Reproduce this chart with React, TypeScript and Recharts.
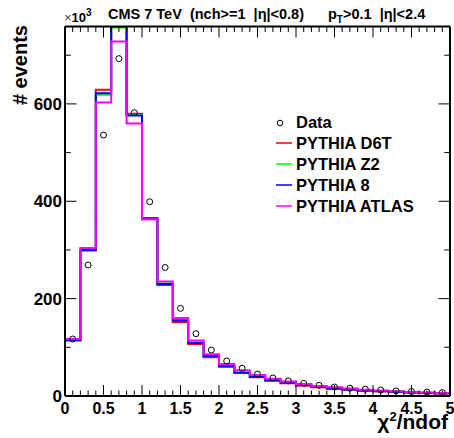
import { ComposedChart, Line, Scatter, XAxis, YAxis, Customized } from 'recharts'

// histogram bins (low edges), width 0.2, last edge 5
const binLow = [
  0, 0.2, 0.4, 0.6, 0.8, 1.0, 1.2, 1.4, 1.6, 1.8, 2.0, 2.2, 2.4, 2.6, 2.8, 3.0, 3.2, 3.4, 3.6, 3.8,
  4.0, 4.2, 4.4, 4.6, 4.8,
]
const binHigh = 5
const binCenter = [
  0.1, 0.3, 0.5, 0.7, 0.9, 1.1, 1.3, 1.5, 1.7, 1.9, 2.1, 2.3, 2.5, 2.7, 2.9, 3.1, 3.3, 3.5, 3.7, 3.9,
  4.1, 4.3, 4.5, 4.7, 4.9,
]

// values in units of 10^3 events
const dataValues = [
  117, 269, 536, 693, 582, 399, 264, 180, 128, 94.5, 72, 57, 45, 37, 31, 26, 22, 18.5, 16, 14, 12.3,
  10.5, 9.2, 8, 7,
]
const d6tValues = [
  114, 299, 629, 770, 580, 363, 228, 152, 107, 79.5, 60, 47, 38.5, 31.5, 26, 21.5, 18, 15, 13, 11,
  9.6, 8.2, 7, 6, 5.2,
]
const z2Values = [
  115, 300, 619, 757, 577, 365, 231, 156, 110, 83, 61.5, 48.5, 40, 33, 27.5, 22.5, 19, 16, 14, 12,
  10.3, 8.8, 7.6, 6.6, 5.7,
]
const py8Values = [
  115, 300, 622, 759, 576, 365, 230, 155, 109, 82, 61, 48, 39.5, 32.5, 27, 22, 18.5, 15.5, 13.5, 11.5,
  10, 8.5, 7.3, 6.3, 5.5,
]
const atlasValues = [
  117, 304, 603, 728, 560, 363, 235, 160, 114, 86, 65.5, 53, 43, 35.5, 30, 24.5, 20.5, 18, 15.5, 13,
  11.3, 9.6, 8.2, 7.2, 6.2,
]

const series = [
  { key: 'd6t', name: 'PYTHIA D6T', color: '#ff0000', values: d6tValues },
  { key: 'z2', name: 'PYTHIA Z2', color: '#00ff00', values: z2Values },
  { key: 'py8', name: 'PYTHIA 8', color: '#0000ff', values: py8Values },
  { key: 'atlas', name: 'PYTHIA ATLAS', color: '#ff00ff', values: atlasValues },
]

const xMajorTicks = [0, 0.5, 1, 1.5, 2, 2.5, 3, 3.5, 4, 4.5, 5]
const xTickLabels = ['0', '0.5', '1', '1.5', '2', '2.5', '3', '3.5', '4', '4.5', '5']
const xMinorTicks = Array.from({ length: 51 }, (_, i) => i / 10)
const yMajorTicks = [0, 200, 400, 600]
const yTickLabels = ['0', '200', '400', '600']
const yMinorTicks = [0, 100, 200, 300, 400, 500, 600, 700]

const Y_MAX = 759
const FONT = '"Liberation Sans", Arial, Helvetica, sans-serif'

const stepData = [
  ...binLow.map((x, i) => {
    const row: Record<string, number> = { x }
    series.forEach((s) => (row[s.key] = s.values[i]))
    return row
  }),
  (() => {
    const row: Record<string, number> = { x: binHigh }
    series.forEach((s) => (row[s.key] = s.values[s.values.length - 1]))
    return row
  })(),
]
const pointData = binCenter.map((x, i) => ({ x, y: dataValues[i] }))

const majorIndex = (list: number[], v: number) => list.findIndex((m) => Math.abs(m - v) < 1e-6)

function BottomTick({ x, y, payload }: any) {
  const idx = majorIndex(xMajorTicks, payload.value)
  const len = idx >= 0 ? 11 : 5.5
  return (
    <g>
      <line x1={x} x2={x} y1={y} y2={y - len} stroke="#000" strokeWidth={1} />
      {idx >= 0 && (
        <text x={x} y={y + 18} textAnchor="middle" fontFamily={FONT} fontWeight="bold" fontSize={16} fill="#000">
          {xTickLabels[idx]}
        </text>
      )}
    </g>
  )
}

function TopTick({ x, y, payload }: any) {
  const len = majorIndex(xMajorTicks, payload.value) >= 0 ? 11 : 5.5
  return <line x1={x} x2={x} y1={y} y2={y + len} stroke="#000" strokeWidth={1} />
}

function LeftTick({ x, y, payload }: any) {
  const idx = majorIndex(yMajorTicks, payload.value)
  const len = idx >= 0 ? 11.5 : 5.7
  return (
    <g>
      <line x1={x} x2={x + len} y1={y} y2={y} stroke="#000" strokeWidth={1} />
      {idx >= 0 && (
        <text x={x - 3} y={y + 6} textAnchor="end" fontFamily={FONT} fontWeight="bold" fontSize={17} fill="#000">
          {yTickLabels[idx]}
        </text>
      )}
    </g>
  )
}

function RightTick({ x, y, payload }: any) {
  const len = majorIndex(yMajorTicks, payload.value) >= 0 ? 11.5 : 5.7
  return <line x1={x} x2={x - len} y1={y} y2={y} stroke="#000" strokeWidth={1} />
}

function Overlay() {
  const txt = { fontFamily: FONT, fontWeight: 'bold' as const, fill: '#000', style: { whiteSpace: 'pre' as const } }
  return (
    <g>
      <text x={64} y={22} fontFamily={FONT} fontSize={13} fill="#000">
        <tspan fill="#444">×</tspan>
        <tspan fontWeight="bold">10</tspan>
        <tspan dy={-6} fontSize={10} fontWeight="bold">
          3
        </tspan>
      </text>
      <text x={108} y={18.5} fontSize={14.5} {...txt}>
        CMS 7 TeV  (nch&gt;=1  |η|&lt;0.8)
      </text>
      <text x={328} y={18.5} fontSize={14.5} {...txt}>
        p
        <tspan dy={4} fontSize={10}>
          T
        </tspan>
        <tspan dy={-4}>&gt;0.1  |η|&lt;2.4</tspan>
      </text>
      <text x={27} y={25} transform="rotate(-90 27 25)" textAnchor="end" fontSize={20} {...txt}>
        # events
      </text>
      <text x={448} y={429} textAnchor="end" fontSize={21} {...txt}>
        χ
        <tspan dy={-8} fontSize={13}>
          2
        </tspan>
        <tspan dy={8}>/ndof</tspan>
      </text>
      {/* legend */}
      <circle cx={280} cy={123} r={2.8} fill="none" stroke="#000" strokeWidth={1} />
      <text x={296} y={128} fontSize={16.5} {...txt}>
        Data
      </text>
      {series.map((s, i) => (
        <g key={s.key}>
          <line x1={276} x2={292} y1={143 + i * 21} y2={143 + i * 21} stroke={s.color} strokeWidth={1.5} />
          <text x={296} y={149 + i * 21} fontSize={16.5} {...txt}>
            {s.name}
          </text>
        </g>
      ))}
    </g>
  )
}

export default function App() {
  return (
    <div style={{ position: 'absolute', left: 0, top: 0, background: '#fff' }}>
      <ComposedChart width={454} height={438} data={stepData} margin={{ top: 0, right: 0, bottom: 0, left: 0 }}>
        <XAxis
          dataKey="x"
          type="number"
          domain={[0, 5]}
          ticks={xMinorTicks}
          interval={0}
          height={42}
          tickSize={0}
          tickMargin={0}
          tick={<BottomTick />}
          axisLine={{ stroke: '#000', strokeWidth: 2 }}
        />
        <XAxis
          xAxisId="top"
          orientation="top"
          dataKey="x"
          type="number"
          domain={[0, 5]}
          ticks={xMinorTicks}
          interval={0}
          height={26.5}
          tickSize={0}
          tickMargin={0}
          tick={<TopTick />}
          axisLine={{ stroke: '#000', strokeWidth: 2 }}
        />
        <YAxis
          type="number"
          domain={[0, Y_MAX]}
          ticks={yMinorTicks}
          interval={0}
          width={65}
          tickSize={0}
          tickMargin={0}
          tick={<LeftTick />}
          axisLine={{ stroke: '#000', strokeWidth: 2 }}
          allowDataOverflow
        />
        <YAxis
          yAxisId="right"
          orientation="right"
          type="number"
          domain={[0, Y_MAX]}
          ticks={yMinorTicks}
          interval={0}
          width={4}
          tickSize={0}
          tickMargin={0}
          tick={<RightTick />}
          axisLine={{ stroke: '#000', strokeWidth: 2 }}
          allowDataOverflow
        />
        {series.map((s) => (
          <Line
            key={s.key}
            type="stepAfter"
            dataKey={s.key}
            stroke={s.color}
            strokeWidth={2}
            dot={false}
            isAnimationActive={false}
          />
        ))}
        <Scatter
          data={pointData}
          dataKey="y"
          isAnimationActive={false}
          shape={(p: any) => <circle cx={p.cx} cy={p.cy} r={3} fill="none" stroke="#000" strokeWidth={1} />}
        />
        <Customized component={<Overlay />} />
      </ComposedChart>
    </div>
  )
}
